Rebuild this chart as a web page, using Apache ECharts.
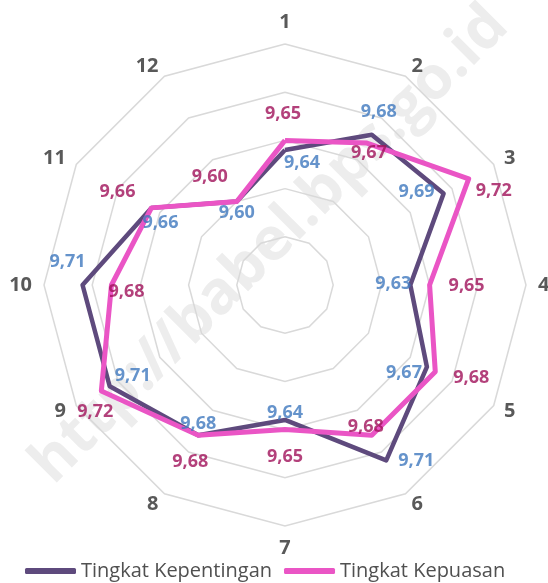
<!DOCTYPE html>
<html>
<head>
<meta charset="utf-8">
<script src="https://cdn.jsdelivr.net/npm/echarts@6/dist/echarts.min.js"></script>
<style>
    html, body { margin: 0; padding: 0; background: #fff; }
    #chart { width: 548px; height: 583px; }
</style>
</head>
<body>
<div id="chart"></div>
<script>
var categories = ['1', '2', '3', '4', '5', '6', '7', '8', '9', '10', '11', '12'];
var kepentingan = [9.64, 9.68, 9.69, 9.63, 9.67, 9.71, 9.64, 9.68, 9.71, 9.71, 9.66, 9.60];
var kepuasan = [9.65, 9.67, 9.72, 9.65, 9.68, 9.68, 9.65, 9.68, 9.72, 9.68, 9.66, 9.60];
var seriesNames = ['Tingkat Kepentingan', 'Tingkat Kepuasan'];
var scaleMin = 9.5;
var scaleMax = 9.75;

// where each data label sits relative to its point (px), same order as categories
var offsetKepentingan = [[17, 13], [7, -23], [-27, -2], [-17, -1], [-23, 6], [30, 1],
    [0, -7], [0, -11], [23, -10], [-15, -23], [9, 15], [0, 11]];
var offsetKepuasan = [[-2, -27], [2, 10], [25, 12], [37, 1], [36, 6], [-6, -8],
    [0, 27], [-8, 27], [-6, 21], [15, 7], [-34, -16], [-27, -25]];

var colorK = '#5E4A7D';
var colorP = '#EA55C5';
var labelColorK = '#3F78BE';
var labelColorP = '#A0125A';
var font = '"Open Sans", "Noto Sans", sans-serif';
var center = [285, 285];
var radius = 241;

// radar lays the axes out counter-clockwise, the picture goes clockwise
var order = [0];
for (var i = categories.length - 1; i > 0; i--) order.push(i);
function reorder(arr) { return order.map(function (k) { return arr[k]; }); }

function labelPoints(values, offsets, color) {
    return values.map(function (v, i) {
        return {
            value: [v, i],
            label: { offset: offsets[i], color: color }
        };
    });
}

function fmt(p) {
    var v = Array.isArray(p.value) ? p.value[0] : p.value;
    return v.toFixed(2).replace('.', ',');
}

var chart = echarts.init(document.getElementById('chart'));

var option = {
    animation: false,
    backgroundColor: '#fff',
    graphic: {
        elements: [{
            type: 'text',
            x: 270,
            y: 245,
            rotation: Math.PI / 4,
            z: -10,
            silent: true,
            style: {
                text: 'http://babel.bps.go.id',
                font: 'bold 60px ' + font,
                fill: '#EDEDED',
                align: 'center',
                verticalAlign: 'middle'
            }
        }]
    },
    legend: {
        data: seriesNames,
        left: 20,
        top: 556,
        icon: 'roundRect',
        itemWidth: 51,
        itemHeight: 6,
        itemGap: 12,
        textStyle: { fontFamily: font, fontSize: 20, color: '#505050' }
    },
    radar: {
        center: center,
        radius: radius,
        shape: 'polygon',
        splitNumber: 5,
        nameGap: 12,
        indicator: reorder(categories).map(function (c) {
            return { name: c, min: scaleMin, max: scaleMax };
        }),
        axisName: { color: '#595959', fontSize: 20, fontWeight: 'bold', fontFamily: font },
        axisLine: { show: false },
        axisTick: { show: false },
        axisLabel: { show: false },
        splitArea: { show: false },
        splitLine: { lineStyle: { color: '#D9D9D9', width: 1.5 } }
    },
    // hidden polar grid matching the radar, only used to hang the labels
    polar: { center: center, radius: radius },
    angleAxis: {
        type: 'category',
        data: categories,
        startAngle: 90,
        clockwise: true,
        boundaryGap: false,
        show: false
    },
    radiusAxis: { min: scaleMin, max: scaleMax, show: false },
    series: [{
        type: 'radar',
        symbol: 'none',
        z: 3,
        data: [{
            name: seriesNames[0],
            value: reorder(kepentingan),
            itemStyle: { color: colorK },
            lineStyle: { color: colorK, width: 4.5, join: 'round' }
        }, {
            name: seriesNames[1],
            value: reorder(kepuasan),
            itemStyle: { color: colorP },
            lineStyle: { color: colorP, width: 5, join: 'round' }
        }]
    }, {
        type: 'scatter',
        name: 'label-k',
        coordinateSystem: 'polar',
        symbolSize: 1,
        itemStyle: { color: 'rgba(0,0,0,0)' },
        z: 5,
        silent: true,
        label: {
            show: true, position: 'inside', formatter: fmt,
            fontFamily: font, fontSize: 18, fontWeight: 'bold'
        },
        data: labelPoints(kepentingan, offsetKepentingan, labelColorK)
    }, {
        type: 'scatter',
        name: 'label-p',
        coordinateSystem: 'polar',
        symbolSize: 1,
        itemStyle: { color: 'rgba(0,0,0,0)' },
        z: 5,
        silent: true,
        label: {
            show: true, position: 'inside', formatter: fmt,
            fontFamily: font, fontSize: 18, fontWeight: 'bold'
        },
        data: labelPoints(kepuasan, offsetKepuasan, labelColorP)
    }]
};

chart.setOption(option);
</script>
</body>
</html>
